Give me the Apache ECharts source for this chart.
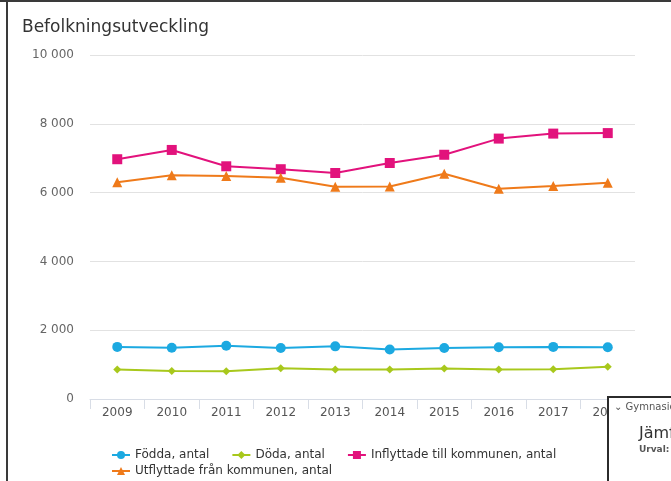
<!DOCTYPE html>
<html>
<head>
<meta charset="utf-8">
<script src="https://cdn.jsdelivr.net/npm/echarts@6/dist/echarts.min.js"></script>
<style>
html,body{margin:0;padding:0;background:#fff;}
#chart{width:671px;height:481px;}
</style>
</head>
<body>
<div id="chart"></div>
<script>
var categories = ['2009','2010','2011','2012','2013','2014','2015','2016','2017','2018'];
var fodda = [1515, 1490, 1550, 1485, 1530, 1440, 1485, 1505, 1515, 1505];
var doda = [855, 815, 805, 895, 855, 855, 885, 855, 865, 940];
var inflyttade = [6970, 7240, 6765, 6680, 6570, 6860, 7100, 7570, 7715, 7730];
var utflyttade = [6300, 6505, 6485, 6430, 6170, 6175, 6550, 6110, 6190, 6285];
var seriesNames = ['Födda, antal', 'Döda, antal', 'Inflyttade till kommunen, antal', 'Utflyttade från kommunen, antal'];
var yTicks = [0, 2000, 4000, 6000, 8000, 10000];

var FONT = 'DejaVu Sans';
var colors = ['#1ca9e1', '#a8c81c', '#e2127c', '#ef7a1a'];

function fmt(v){ return String(v).replace(/\B(?=(\d{3})+(?!\d))/g, ' '); }

function mk(name, data, color, symbol, size){
  return {
    name: name, type: 'line', data: data,
    symbol: symbol, symbolSize: size,
    lineStyle: {color: color, width: 2},
    itemStyle: {color: color},
    animation: false
  };
}

var chart = echarts.init(document.getElementById('chart'), null, {renderer: 'canvas'});
chart.setOption({
  animation: false,
  color: colors,
  title: {
    text: 'Befolkningsutveckling', left: 17, top: 14,
    textStyle: {fontFamily: FONT, fontSize: 17, fontWeight: 'normal', color: '#333'}
  },
  grid: {left: 90, right: 36, top: 55, bottom: 82},
  legend: [{
    data: seriesNames.slice(0, 3),
    left: 106, top: 444, itemWidth: 18, itemHeight: 10, itemGap: 22,
    textStyle: {fontFamily: FONT, fontSize: 12, color: '#333'}
  },{
    data: seriesNames.slice(3),
    left: 106, top: 460, itemWidth: 18, itemHeight: 10, itemGap: 22,
    textStyle: {fontFamily: FONT, fontSize: 12, color: '#333'}
  }],
  xAxis: {
    type: 'category', data: categories, boundaryGap: true,
    axisLine: {lineStyle: {color: '#d8dde6', width: 1}},
    axisTick: {show: true, length: 10, lineStyle: {color: '#d8dde6'}},
    axisLabel: {margin: 8, fontFamily: FONT, fontSize: 12, color: '#555'}
  },
  yAxis: {
    type: 'value', min: yTicks[0], max: yTicks[yTicks.length-1], interval: yTicks[1]-yTicks[0],
    axisLine: {show: false}, axisTick: {show: false},
    splitLine: {lineStyle: {color: '#e2e2e2', width: 1}},
    axisLabel: {margin: 16, fontFamily: FONT, fontSize: 12, color: '#666', formatter: fmt}
  },
  series: [
    mk(seriesNames[0], fodda, colors[0], 'circle', 10),
    mk(seriesNames[1], doda, colors[1], 'diamond', 8),
    mk(seriesNames[2], inflyttade, colors[2], 'rect', 10),
    mk(seriesNames[3], utflyttade, colors[3], 'triangle', 10)
  ],
  graphic: [
    {type: 'rect', z: 100, shape: {x: 0, y: 0, width: 671, height: 2}, style: {fill: '#3a3a3a'}},
    {type: 'rect', z: 100, shape: {x: 6, y: 0, width: 2, height: 481}, style: {fill: '#3a3a3a'}},
    {type: 'rect', z: 100, shape: {x: 608, y: 397, width: 70, height: 90}, style: {fill: '#fff', stroke: '#2b2b2b', lineWidth: 2}},
    {type: 'text', z: 101, left: 614, top: 402, style: {text: '⌄ Gymnasieskola', font: '10px "DejaVu Sans"', fill: '#555'}},
    {type: 'text', z: 101, left: 639, top: 426, style: {text: 'Jämförelse', font: '16px "DejaVu Sans"', fill: '#333'}},
    {type: 'text', z: 101, left: 639, top: 445, style: {text: 'Urval: Alla', font: 'bold 9px "DejaVu Sans"', fill: '#555'}}
  ]
});
</script>
</body>
</html>
